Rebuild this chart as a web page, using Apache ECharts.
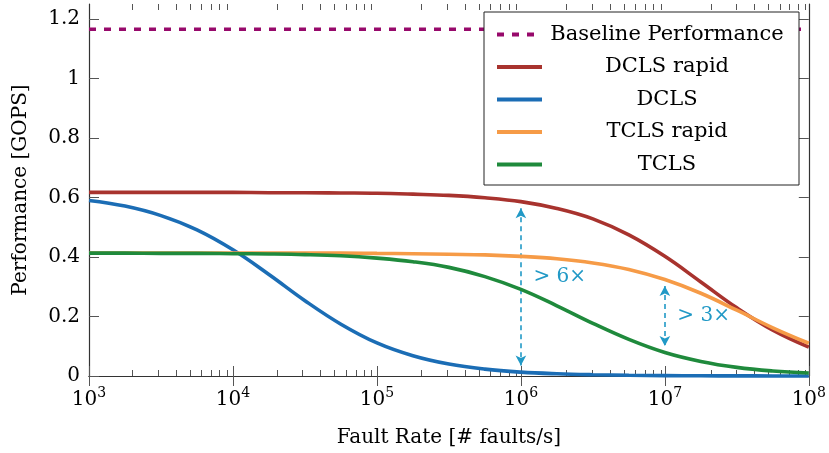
<!DOCTYPE html>
<html><head><meta charset="utf-8">
<script src="https://cdn.jsdelivr.net/npm/echarts@6/dist/echarts.min.js"></script>
<style>html,body{margin:0;padding:0;background:#fff}#c{width:829px;height:453px}</style>
</head><body><div id="c"></div>
<script>
// ---- data ----
const faultRates = [1e3, 1.778e3, 3.162e3, 5.623e3, 1e4, 1.778e4, 3.162e4, 5.623e4, 1e5, 1.778e5, 3.162e5, 5.623e5, 1e6, 1.778e6, 3.162e6, 5.623e6, 1e7, 1.778e7, 3.162e7, 5.623e7, 1e8];
const baselinePerf = 1.165;
const dclsRapid = [0.617,0.617,0.617,0.617,0.617,0.616,0.616,0.615,0.614,0.611,0.607,0.599,0.586,0.563,0.528,0.474,0.402,0.316,0.229,0.154,0.097];
const dcls      = [0.590,0.571,0.539,0.491,0.424,0.341,0.253,0.174,0.111,0.068,0.040,0.023,0.013,0.0075,0.0043,0.0024,0.0014,0.0008,0.0004,0.0002,0.0001];
const tclsRapid = [0.413,0.413,0.413,0.413,0.413,0.413,0.413,0.413,0.412,0.411,0.409,0.407,0.402,0.394,0.380,0.358,0.324,0.278,0.221,0.162,0.110];
const tcls      = [0.413,0.413,0.412,0.412,0.411,0.410,0.408,0.404,0.396,0.384,0.365,0.334,0.291,0.236,0.177,0.123,0.079,0.049,0.029,0.017,0.010];
const xMajorTicks = [1e3, 1e4, 1e5, 1e6, 1e7, 1e8];
const xMinorMultipliers = [2, 3, 4, 5, 6, 7, 8, 9];
const yTicks = [0, 0.2, 0.4, 0.6, 0.8, 1, 1.2];
const seriesNames = ['Baseline Performance', 'DCLS rapid', 'DCLS', 'TCLS rapid', 'TCLS'];
const annotRates = [1e6, 1e7];
const annotTexts = ['> 6×', '> 3×'];

// ---- styling ----
const FONT = 'DejaVu Serif';
const colors = ['#97096b', '#a8332e', '#1b6db5', '#f69b47', '#1f8a3c'];
const cyan = '#2199c6';
const frame = '#333';

const minorTicks = [];
xMajorTicks.slice(0, -1).forEach(d => xMinorMultipliers.forEach(m => minorTicks.push(d * m)));

const pairs = arr => faultRates.map((x, i) => [x, arr[i]]);
const curveData = [pairs(dclsRapid), pairs(dcls), pairs(tclsRapid), pairs(tcls)];
const annotUpper = [dclsRapid, tclsRapid];
const annotLower = [dcls, tcls];

const gridRect = {left: 89, right: 17, top: 4, bottom: 77};
const xBase = {type: 'log', logBase: 10, min: 1e3, max: 1e8, splitLine: {show: false}, minorTick: {show: false}};

const supFmt = v => '{b|10}{s|' + Math.round(Math.log10(v)) + '}';

const arrowGap = 0.022;
const markLineData = [], markPointData = [];
const labelShift = [-10, 0];
annotRates.forEach((r, k) => {
  const i = faultRates.indexOf(r);
  const top = annotUpper[k][i] - arrowGap, bot = annotLower[k][i] + arrowGap;
  markLineData.push([{coord: [r, top]}, {coord: [r, bot]}]);
  markPointData.push({coord: [r, (top + bot) / 2], name: annotTexts[k], label: {offset: [0, labelShift[k]]}});
});

const option = {
  animation: false,
  textStyle: {fontFamily: FONT},
  grid: [Object.assign({}, gridRect), Object.assign({}, gridRect)],
  xAxis: [
    Object.assign({}, xBase, {
      gridIndex: 0, position: 'bottom',
      name: 'Fault Rate [# faults/s]', nameLocation: 'middle', nameGap: 52,
      nameTextStyle: {fontFamily: FONT, fontSize: 20, color: '#000'},
      axisLine: {show: true, lineStyle: {color: frame, width: 1.2}},
      axisTick: {show: true, inside: true, length: 10, customValues: xMajorTicks, lineStyle: {color: '#555', width: 1}},
      axisLabel: {show: true, margin: 10, customValues: xMajorTicks, formatter: supFmt, color: '#000',
        rich: {b: {fontFamily: FONT, fontSize: 20, color: '#000', lineHeight: 24, verticalAlign: 'bottom'},
               s: {fontFamily: FONT, fontSize: 14, color: '#000', lineHeight: 24, verticalAlign: 'top', padding: [0, 0, 8, 0]}}}
    }),
    Object.assign({}, xBase, {
      gridIndex: 0, position: 'top',
      axisLine: {show: true, lineStyle: {color: frame, width: 1.2}},
      axisTick: {show: true, inside: true, length: 10, customValues: xMajorTicks, lineStyle: {color: '#555', width: 1}},
      axisLabel: {show: false}
    }),
    Object.assign({}, xBase, {
      gridIndex: 1, position: 'bottom',
      axisLine: {show: false},
      axisTick: {show: true, inside: true, length: 6, customValues: minorTicks, lineStyle: {color: '#555', width: 1}},
      axisLabel: {show: false}
    }),
    Object.assign({}, xBase, {
      gridIndex: 1, position: 'top',
      axisLine: {show: false},
      axisTick: {show: true, inside: true, length: 6, customValues: minorTicks, lineStyle: {color: '#555', width: 1}},
      axisLabel: {show: false}
    })
  ],
  yAxis: [
    {
      type: 'value', gridIndex: 0, position: 'left', min: 0, max: 1.25,
      name: 'Performance [GOPS]', nameLocation: 'middle', nameGap: 58,
      nameTextStyle: {fontFamily: FONT, fontSize: 20, color: '#000'},
      splitLine: {show: false},
      axisLine: {show: true, lineStyle: {color: frame, width: 1.2}},
      axisTick: {show: true, inside: true, length: 10, customValues: yTicks, lineStyle: {color: '#555', width: 1}},
      axisLabel: {show: true, margin: 9, customValues: yTicks, fontFamily: FONT, fontSize: 20, color: '#000'}
    },
    {
      type: 'value', gridIndex: 0, position: 'right', min: 0, max: 1.25,
      splitLine: {show: false},
      axisLine: {show: true, lineStyle: {color: frame, width: 1.2}},
      axisTick: {show: true, inside: true, length: 10, customValues: yTicks, lineStyle: {color: '#555', width: 1}},
      axisLabel: {show: false}
    },
    {type: 'value', gridIndex: 1, min: 0, max: 1.25, show: false}
  ],
  legend: {
    data: seriesNames,
    orient: 'vertical', left: 484, top: 12,
    padding: [12, 12, 10, 11], itemGap: 11.5,
    itemWidth: 45, itemHeight: 14,
    backgroundColor: '#fff', borderColor: '#222', borderWidth: 1,
    itemStyle: {color: 'rgba(0,0,0,0)', borderWidth: 0, opacity: 0},
    lineStyle: {width: 4},
    formatter: n => '{c|' + n + '}',
    textStyle: {fontFamily: FONT, fontSize: 21, color: '#000',
      rich: {c: {fontFamily: FONT, fontSize: 21, color: '#000', width: 240, align: 'center', lineHeight: 24}}}
  },
  series: [
    {
      name: seriesNames[0], type: 'line', xAxisIndex: 0, yAxisIndex: 0,
      data: [[faultRates[0], baselinePerf], [faultRates[faultRates.length - 1], baselinePerf]],
      symbol: 'none', clip: false, z: 2,
      lineStyle: {color: colors[0], width: 3.5, type: [7, 8]}, itemStyle: {color: colors[0]}
    }
  ].concat(curveData.map((d, k) => ({
      name: seriesNames[k + 1], type: 'line', xAxisIndex: 0, yAxisIndex: 0,
      data: d, symbol: 'none', smooth: 0.4, clip: false, z: 3 + k,
      lineStyle: {color: colors[k + 1], width: 3.6}, itemStyle: {color: colors[k + 1]}
  }))).concat([{
      name: 'annotations', type: 'line', xAxisIndex: 0, yAxisIndex: 0, data: [], z: 10,
      markLine: {
        silent: true, symbol: ['arrow', 'arrow'], symbolSize: [8, 10], animation: false,
        label: {show: false},
        lineStyle: {color: cyan, width: 1.6, type: [5, 4]},
        data: markLineData
      },
      markPoint: {
        silent: true, symbol: 'circle', symbolSize: 1, itemStyle: {color: 'rgba(0,0,0,0)'},
        label: {show: true, position: 'right', distance: 12, formatter: '{b}', color: cyan, fontFamily: FONT, fontSize: 20},
        data: markPointData
      }
  }])
};

const chart = echarts.init(document.getElementById('c'), null, {renderer: 'canvas'});
chart.setOption(option);
</script>
</body></html>
